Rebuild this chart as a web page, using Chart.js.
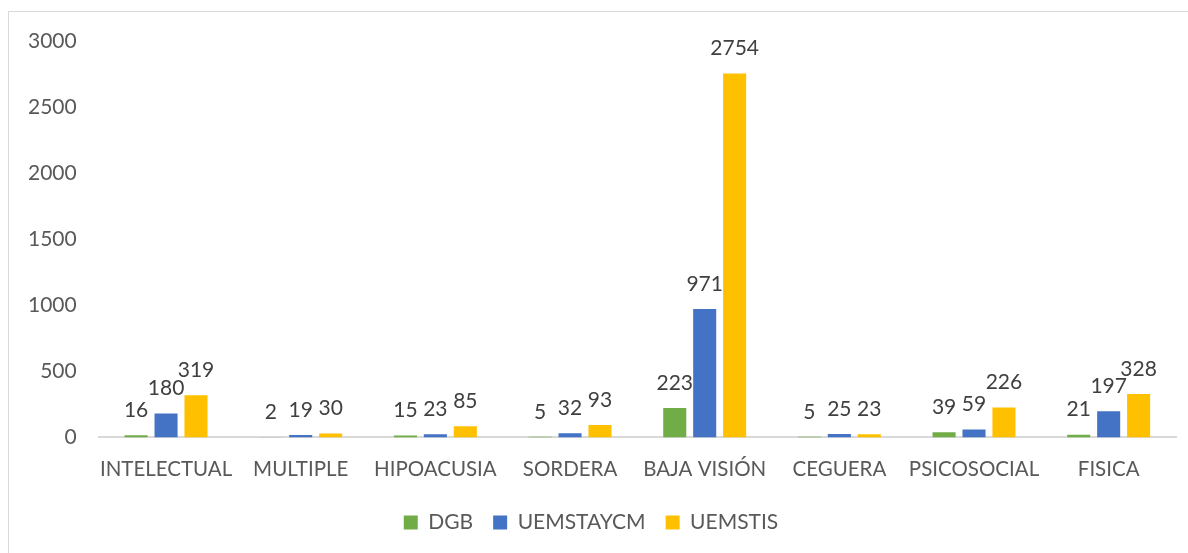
<!DOCTYPE html>
<html>
<head>
<meta charset="utf-8">
<script src="https://cdn.jsdelivr.net/npm/chart.js@4"></script>
<style>
  html, body { margin: 0; padding: 0; background: #fff; }
  body { width: 1188px; height: 553px; position: relative; overflow: hidden; }
  #frame { position: absolute; left: 8px; top: 11px; width: 1200px; height: 560px; border: 1px solid #d9d9d9; }
  #chart { position: absolute; left: 0; top: 0; }
</style>
</head>
<body>
<div id="frame"></div>
<canvas id="chart" width="1188" height="553"></canvas>
<script>
const categories = ['INTELECTUAL', 'MULTIPLE', 'HIPOACUSIA', 'SORDERA', 'BAJA VISIÓN', 'CEGUERA', 'PSICOSOCIAL', 'FISICA'];
const dgb = [16, 2, 15, 5, 223, 5, 39, 21];
const uemstaycm = [180, 19, 23, 32, 971, 25, 59, 197];
const uemstis = [319, 30, 85, 93, 2754, 23, 226, 328];
const yTicks = [0, 500, 1000, 1500, 2000, 2500, 3000];

const font = 'Lato, "Open Sans", sans-serif';

// draws the value above each bar (no datalabels plugin available offline)
const barLabels = {
    id: 'barLabels',
    afterDatasetsDraw(chart) {
        const c = chart.ctx;
        c.save();
        c.font = '21px ' + font;
        c.fillStyle = '#404040';
        c.textAlign = 'center';
        c.textBaseline = 'middle';
        chart.data.datasets.forEach((ds, i) => {
            chart.getDatasetMeta(i).data.forEach((bar, j) => {
                c.fillText(ds.data[j], bar.x, bar.y - 25);
            });
        });
        c.restore();
    }
};

new Chart(document.getElementById('chart').getContext('2d'), {
    type: 'bar',
    data: {
        labels: categories,
        datasets: [
            { label: 'DGB', data: dgb, backgroundColor: '#70ad47' },
            { label: 'UEMSTAYCM', data: uemstaycm, backgroundColor: '#4472c4' },
            { label: 'UEMSTIS', data: uemstis, backgroundColor: '#ffc000' }
        ]
    },
    options: {
        responsive: false,
        animation: false,
        devicePixelRatio: 1,
        categoryPercentage: 0.667,
        barPercentage: 0.77,
        layout: { padding: { left: 6, right: 12, top: 41, bottom: 10 } },
        plugins: {
            legend: {
                position: 'bottom',
                labels: {
                    boxWidth: 14,
                    boxHeight: 14,
                    padding: 20,
                    color: '#595959',
                    font: { size: 21, family: font }
                }
            },
            tooltip: { enabled: false }
        },
        scales: {
            x: {
                grid: { display: false, drawTicks: false },
                border: { color: '#d9d9d9', width: 2 },
                ticks: { color: '#595959', padding: 20, maxRotation: 0, autoSkip: false, font: { size: 20.5, family: font } },
                afterFit: (scale) => { scale.height -= 10; } // legend sits closer to the labels
            },
            y: {
                min: 0,
                max: 3000,
                afterBuildTicks: (axis) => { axis.ticks = yTicks.map(v => ({ value: v })); },
                grid: { display: false, drawTicks: false },
                border: { display: false },
                ticks: { color: '#595959', padding: 22, font: { size: 21, family: font }, callback: (v) => v }
            }
        }
    },
    plugins: [barLabels]
});
</script>
</body>
</html>
